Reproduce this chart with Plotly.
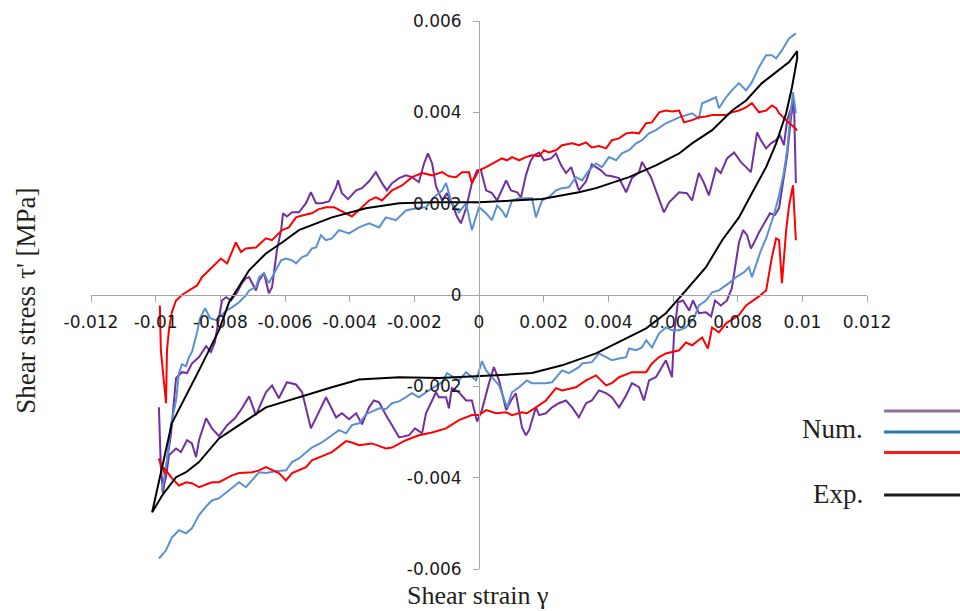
import plotly.graph_objects as go

# ---- Experimental loop (shear strain, shear stress in MPa) ----
exp_strain = [-0.01011, -0.00950, -0.00866, -0.00804, -0.00773, -0.00711, -0.00659, -0.00609, -0.00557, -0.00455,
              -0.00350, -0.00247, -0.00145, 0.0, 0.00195, 0.00309, 0.00362, 0.00464, 0.00547, 0.00619,
              0.00659, 0.00721, 0.00783, 0.00826, 0.00875, 0.00928, 0.00959, 0.00984,
              0.00984, 0.00968, 0.00950, 0.00919, 0.00888, 0.00844, 0.00804, 0.00752, 0.00702, 0.00640,
              0.00578, 0.00517, 0.00442, 0.00362, 0.00257, 0.00164, 0.00053, 0.0, -0.00124, -0.00247,
              -0.00371, -0.00455, -0.00557, -0.00659, -0.00742, -0.00804, -0.00866, -0.00906, -0.00937, -0.00980,
              -0.01011]
exp_stress = [-0.00476, -0.00281, -0.00165, -0.00077, -0.00016, 0.00054, 0.00091, 0.00115, 0.00142, 0.00170,
              0.00190, 0.00201, 0.00203, 0.00203, 0.00210, 0.00225, 0.00234, 0.00258, 0.00284, 0.00310,
              0.00332, 0.00361, 0.00404, 0.00426, 0.00464, 0.00492, 0.00510, 0.00534,
              0.00518, 0.00455, 0.00398, 0.00332, 0.00280, 0.00223, 0.00170, 0.00120, 0.00061, 0.00010,
              -0.00040, -0.00073, -0.00099, -0.00128, -0.00154, -0.00171, -0.00176, -0.00178, -0.00182, -0.00180,
              -0.00185, -0.00202, -0.00224, -0.00246, -0.00285, -0.00314, -0.00366, -0.00388, -0.00399, -0.00439,
              -0.00476]

# ---- Numerical run 1 (purple) ----
purple_up_strain = [-0.00990, -0.00984, -0.00977, -0.00965, -0.00953, -0.00937, -0.00919, -0.00903, -0.00888, -0.00866,
                    -0.00844, -0.00829, -0.00817, -0.00804, -0.00795, -0.00782, -0.00767, -0.00748, -0.00733, -0.00721,
                    -0.00711, -0.00690, -0.00680, -0.00665, -0.00650, -0.00640, -0.00625, -0.00612, -0.00606, -0.00594,
                    -0.00578, -0.00557, -0.00535, -0.00520, -0.00504, -0.00486, -0.00464, -0.00442, -0.00436, -0.00424,
                    -0.00405, -0.00380, -0.00362, -0.00340, -0.00319, -0.00300, -0.00285, -0.00269, -0.00247, -0.00226,
                    -0.00207, -0.00186, -0.00170, -0.00158, -0.00145, -0.00133, -0.00114, -0.00099, -0.00084, -0.00068,
                    -0.00056, -0.00040, -0.00022, -0.00006, 0.00006, 0.00022, 0.00040, 0.00056, 0.00084, 0.00099,
                    0.00118, 0.00130, 0.00145, 0.00158, 0.00170, 0.00186, 0.00201, 0.00223, 0.00238, 0.00254,
                    0.00269, 0.00285, 0.00300, 0.00309, 0.00331, 0.00349, 0.00377, 0.00393, 0.00411, 0.00433,
                    0.00455, 0.00473, 0.00495, 0.00504, 0.00532, 0.00557, 0.00572, 0.00588, 0.00619, 0.00643,
                    0.00659, 0.00680, 0.00696, 0.00711, 0.00733, 0.00748, 0.00767, 0.00789, 0.00810, 0.00826,
                    0.00841, 0.00860, 0.00872, 0.00888, 0.00903, 0.00919, 0.00931, 0.00943, 0.00953, 0.00965,
                    0.00974, 0.00980]
purple_up_stress = [-0.00246, -0.00377, -0.00434, -0.00362, -0.00307, -0.00182, -0.00169, -0.00171, -0.00150, -0.00136,
                    -0.00112, -0.00125, -0.00104, -0.00051, -0.00012, -0.00005, -0.00012, 0.00006, 0.00026, 0.00037,
                    0.00039, 0.00010, 0.00032, 0.00048, 0.00004, 0.00017, 0.00098, 0.00142, 0.00179, 0.00172,
                    0.00181, 0.00181, 0.00201, 0.00225, 0.00201, 0.00201, 0.00205, 0.00236, 0.00251, 0.00223,
                    0.00210, 0.00229, 0.00234, 0.00249, 0.00269, 0.00245, 0.00229, 0.00245, 0.00256, 0.00262,
                    0.00258, 0.00247, 0.00288, 0.00310, 0.00288, 0.00238, 0.00207, 0.00223, 0.00201, 0.00172,
                    0.00157, 0.00190, 0.00245, 0.00273, 0.00273, 0.00229, 0.00223, 0.00207, 0.00251, 0.00229,
                    0.00225, 0.00214, 0.00262, 0.00291, 0.00306, 0.00312, 0.00295, 0.00299, 0.00310, 0.00284,
                    0.00267, 0.00280, 0.00247, 0.00229, 0.00249, 0.00286, 0.00273, 0.00262, 0.00260, 0.00256,
                    0.00225, 0.00256, 0.00269, 0.00291, 0.00258, 0.00207, 0.00181, 0.00203, 0.00225, 0.00223,
                    0.00207, 0.00267, 0.00245, 0.00218, 0.00277, 0.00267, 0.00299, 0.00312, 0.00291, 0.00280,
                    0.00269, 0.00356, 0.00339, 0.00321, 0.00332, 0.00339, 0.00350, 0.00328, 0.00383, 0.00409,
                    0.00426, 0.00245]
purple_down_strain = [0.00974, 0.00965, 0.00953, 0.00940, 0.00928, 0.00915, 0.00900, 0.00888, 0.00875, 0.00866,
                      0.00851, 0.00841, 0.00829, 0.00817, 0.00804, 0.00795, 0.00782, 0.00767, 0.00748, 0.00730,
                      0.00718, 0.00702, 0.00680, 0.00662, 0.00650, 0.00631, 0.00615, 0.00603, 0.00597, 0.00578,
                      0.00547, 0.00526, 0.00510, 0.00495, 0.00473, 0.00455, 0.00433, 0.00411, 0.00393, 0.00371,
                      0.00349, 0.00331, 0.00309, 0.00288, 0.00269, 0.00247, 0.00226, 0.00207, 0.00186, 0.00176,
                      0.00155, 0.00145, 0.00133, 0.00114, 0.00099, 0.00084, 0.00062, 0.00046, 0.00031, 0.00009,
                      -0.00006, -0.00022, -0.00040, -0.00062, -0.00084, -0.00093, -0.00102, -0.00124, -0.00133, -0.00145,
                      -0.00164, -0.00176, -0.00198, -0.00216, -0.00247, -0.00269, -0.00288, -0.00309, -0.00325, -0.00340,
                      -0.00362, -0.00380, -0.00402, -0.00424, -0.00442, -0.00473, -0.00504, -0.00520, -0.00547, -0.00566,
                      -0.00594, -0.00619, -0.00640, -0.00659, -0.00690, -0.00711, -0.00733, -0.00755, -0.00779, -0.00804,
                      -0.00826, -0.00844, -0.00866, -0.00875, -0.00888, -0.00903, -0.00922, -0.00937, -0.00959, -0.00968,
                      -0.00980]
purple_down_stress = [0.00426, 0.00389, 0.00306, 0.00240, 0.00190, 0.00175, 0.00179, 0.00164, 0.00148, 0.00137,
                      0.00115, 0.00102, 0.00131, 0.00142, 0.00115, 0.00076, 0.00015, -0.00012, -0.00023, -0.00012,
                      -0.00047, -0.00038, -0.00040, -0.00012, -0.00034, -0.00012, -0.00016, -0.00088, -0.00180, -0.00143,
                      -0.00180, -0.00187, -0.00231, -0.00202, -0.00193, -0.00220, -0.00246, -0.00224, -0.00215, -0.00209,
                      -0.00231, -0.00237, -0.00268, -0.00246, -0.00231, -0.00237, -0.00246, -0.00259, -0.00263, -0.00246,
                      -0.00296, -0.00307, -0.00290, -0.00215, -0.00231, -0.00252, -0.00187, -0.00158, -0.00193, -0.00252,
                      -0.00277, -0.00231, -0.00231, -0.00213, -0.00204, -0.00248, -0.00224, -0.00224, -0.00213, -0.00231,
                      -0.00259, -0.00303, -0.00292, -0.00307, -0.00312, -0.00285, -0.00263, -0.00235, -0.00231, -0.00246,
                      -0.00283, -0.00259, -0.00272, -0.00259, -0.00268, -0.00224, -0.00270, -0.00292, -0.00213, -0.00196,
                      -0.00191, -0.00226, -0.00198, -0.00213, -0.00263, -0.00222, -0.00248, -0.00270, -0.00285, -0.00309,
                      -0.00292, -0.00270, -0.00318, -0.00355, -0.00325, -0.00318, -0.00344, -0.00336, -0.00351, -0.00399,
                      -0.00428]

# ---- Numerical run 2 (blue) ----
blue_up_strain = [-0.00980, -0.00965, -0.00953, -0.00937, -0.00928, -0.00919, -0.00906, -0.00897, -0.00888, -0.00872,
                  -0.00863, -0.00847, -0.00832, -0.00813, -0.00782, -0.00764, -0.00742, -0.00721, -0.00711, -0.00690,
                  -0.00680, -0.00665, -0.00650, -0.00628, -0.00612, -0.00597, -0.00578, -0.00566, -0.00547, -0.00532,
                  -0.00517, -0.00504, -0.00489, -0.00473, -0.00455, -0.00433, -0.00402, -0.00371, -0.00340, -0.00309,
                  -0.00288, -0.00257, -0.00226, -0.00195, -0.00164, -0.00139, -0.00114, -0.00102, -0.00084, -0.00062,
                  -0.00040, -0.00022, -0.00009, 0.0, 0.00022, 0.00040, 0.00056, 0.00071, 0.00084, 0.00102,
                  0.00124, 0.00164, 0.00176, 0.00195, 0.00216, 0.00238, 0.00257, 0.00278, 0.00300, 0.00319,
                  0.00340, 0.00362, 0.00380, 0.00402, 0.00424, 0.00442, 0.00464, 0.00486, 0.00504, 0.00526,
                  0.00547, 0.00578, 0.00619, 0.00640, 0.00659, 0.00680, 0.00690, 0.00711, 0.00733, 0.00742,
                  0.00764, 0.00782, 0.00804, 0.00826, 0.00844, 0.00866, 0.00888, 0.00906, 0.00919, 0.00937,
                  0.00959, 0.00980]
blue_up_stress = [-0.00428, -0.00362, -0.00285, -0.00231, -0.00171, -0.00152, -0.00156, -0.00136, -0.00125, -0.00082,
                  -0.00051, -0.00029, -0.00051, -0.00055, -0.00034, -0.00027, -0.00016, -0.00001, 0.00010, 0.00017,
                  0.00039, 0.00048, 0.00026, 0.00054, 0.00076, 0.00080, 0.00076, 0.00069, 0.00083, 0.00087,
                  0.00102, 0.00104, 0.00131, 0.00120, 0.00124, 0.00142, 0.00135, 0.00148, 0.00157, 0.00148,
                  0.00170, 0.00164, 0.00185, 0.00190, 0.00192, 0.00214, 0.00229, 0.00245, 0.00201, 0.00181,
                  0.00201, 0.00142, 0.00170, 0.00192, 0.00179, 0.00164, 0.00196, 0.00185, 0.00170, 0.00207,
                  0.00212, 0.00212, 0.00170, 0.00207, 0.00214, 0.00229, 0.00234, 0.00236, 0.00258, 0.00251,
                  0.00273, 0.00288, 0.00280, 0.00302, 0.00295, 0.00310, 0.00317, 0.00332, 0.00339, 0.00354,
                  0.00361, 0.00376, 0.00389, 0.00394, 0.00398, 0.00387, 0.00420, 0.00426, 0.00433, 0.00409,
                  0.00433, 0.00448, 0.00464, 0.00448, 0.00466, 0.00499, 0.00525, 0.00525, 0.00518, 0.00536,
                  0.00562, 0.00573]
blue_down_strain = [0.00980, 0.00971, 0.00962, 0.00953, 0.00943, 0.00928, 0.00912, 0.00897, 0.00888, 0.00872,
                    0.00860, 0.00844, 0.00835, 0.00820, 0.00795, 0.00773, 0.00742, 0.00721, 0.00702, 0.00680,
                    0.00665, 0.00640, 0.00619, 0.00597, 0.00578, 0.00557, 0.00535, 0.00517, 0.00504, 0.00486,
                    0.00464, 0.00455, 0.00433, 0.00411, 0.00393, 0.00371, 0.00349, 0.00319, 0.00309, 0.00278,
                    0.00257, 0.00226, 0.00207, 0.00164, 0.00148, 0.00124, 0.00102, 0.00087, 0.00062, 0.00040,
                    0.00022, 0.00009, -0.00009, -0.00040, -0.00062, -0.00099, -0.00114, -0.00155, -0.00186, -0.00207,
                    -0.00226, -0.00247, -0.00269, -0.00288, -0.00309, -0.00331, -0.00349, -0.00371, -0.00393, -0.00411,
                    -0.00433, -0.00455, -0.00486, -0.00517, -0.00535, -0.00557, -0.00578, -0.00597, -0.00628, -0.00659,
                    -0.00680, -0.00702, -0.00721, -0.00742, -0.00764, -0.00782, -0.00804, -0.00826, -0.00844, -0.00866,
                    -0.00888, -0.00906, -0.00928, -0.00950, -0.00968, -0.00990]
blue_down_stress = [0.00398, 0.00444, 0.00387, 0.00317, 0.00269, 0.00218, 0.00175, 0.00146, 0.00124, 0.00098,
                    0.00072, 0.00039, 0.00061, 0.00050, 0.00039, 0.00026, 0.00010, 0.00006, -0.00012, -0.00023,
                    -0.00051, -0.00071, -0.00077, -0.00077, -0.00071, -0.00084, -0.00115, -0.00099, -0.00115, -0.00121,
                    -0.00117, -0.00136, -0.00139, -0.00143, -0.00136, -0.00128, -0.00147, -0.00150, -0.00158, -0.00171,
                    -0.00165, -0.00191, -0.00193, -0.00193, -0.00187, -0.00202, -0.00213, -0.00246, -0.00198, -0.00180,
                    -0.00165, -0.00145, -0.00187, -0.00169, -0.00187, -0.00171, -0.00191, -0.00209, -0.00224, -0.00215,
                    -0.00224, -0.00233, -0.00237, -0.00250, -0.00248, -0.00255, -0.00261, -0.00281, -0.00285, -0.00303,
                    -0.00296, -0.00307, -0.00323, -0.00334, -0.00344, -0.00358, -0.00366, -0.00384, -0.00386, -0.00390,
                    -0.00388, -0.00406, -0.00421, -0.00410, -0.00423, -0.00432, -0.00445, -0.00450, -0.00463, -0.00482,
                    -0.00511, -0.00522, -0.00515, -0.00531, -0.00559, -0.00577]

# ---- Numerical run 3 (red) ----
red_up_strain = [-0.00987, -0.00984, -0.00968, -0.00965, -0.00959, -0.00950, -0.00937, -0.00919, -0.00906, -0.00888,
                 -0.00872, -0.00857, -0.00835, -0.00813, -0.00798, -0.00779, -0.00752, -0.00736, -0.00721, -0.00690,
                 -0.00659, -0.00640, -0.00609, -0.00588, -0.00566, -0.00541, -0.00517, -0.00495, -0.00473, -0.00448,
                 -0.00411, -0.00393, -0.00362, -0.00340, -0.00319, -0.00300, -0.00269, -0.00238, -0.00207, -0.00176,
                 -0.00145, -0.00114, -0.00093, -0.00071, -0.00053, -0.00031, -0.00022, 0.0, 0.00022, 0.00053,
                 0.00071, 0.00087, 0.00102, 0.00124, 0.00145, 0.00164, 0.00186, 0.00201, 0.00216, 0.00238,
                 0.00257, 0.00288, 0.00309, 0.00331, 0.00349, 0.00371, 0.00393, 0.00411, 0.00433, 0.00455,
                 0.00473, 0.00495, 0.00517, 0.00535, 0.00557, 0.00578, 0.00597, 0.00619, 0.00634, 0.00659,
                 0.00680, 0.00702, 0.00721, 0.00764, 0.00782, 0.00804, 0.00826, 0.00844, 0.00866, 0.00888,
                 0.00906, 0.00919, 0.00928, 0.00950, 0.00968, 0.00984]
red_up_stress = [-0.00023, -0.00121, -0.00237, -0.00121, -0.00077, -0.00038, -0.00012, 0.0, 0.00006, 0.00015,
                 0.00021, 0.00039, 0.00054, 0.00069, 0.00080, 0.00069, 0.00115, 0.00094, 0.00102, 0.00104,
                 0.00124, 0.00120, 0.00142, 0.00148, 0.00170, 0.00175, 0.00179, 0.00188, 0.00192, 0.00192,
                 0.00179, 0.00172, 0.00192, 0.00207, 0.00214, 0.00207, 0.00229, 0.00240, 0.00258, 0.00267,
                 0.00262, 0.00269, 0.00260, 0.00258, 0.00269, 0.00269, 0.00245, 0.00273, 0.00280, 0.00291,
                 0.00299, 0.00295, 0.00302, 0.00295, 0.00302, 0.00306, 0.00304, 0.00317, 0.00312, 0.00317,
                 0.00328, 0.00332, 0.00328, 0.00334, 0.00323, 0.00326, 0.00321, 0.00339, 0.00343, 0.00354,
                 0.00356, 0.00354, 0.00376, 0.00378, 0.00400, 0.00404, 0.00402, 0.00404, 0.00378, 0.00383,
                 0.00389, 0.00391, 0.00394, 0.00394, 0.00400, 0.00404, 0.00411, 0.00420, 0.00400, 0.00404,
                 0.00415, 0.00409, 0.00398, 0.00383, 0.00372, 0.00361]
red_down_strain = [0.00980, 0.00971, 0.00959, 0.00950, 0.00937, 0.00928, 0.00919, 0.00906, 0.00888, 0.00866,
                   0.00826, 0.00804, 0.00764, 0.00742, 0.00721, 0.00708, 0.00690, 0.00659, 0.00640, 0.00619,
                   0.00578, 0.00557, 0.00535, 0.00517, 0.00473, 0.00433, 0.00411, 0.00393, 0.00362, 0.00331,
                   0.00300, 0.00257, 0.00238, 0.00207, 0.00176, 0.00148, 0.00133, 0.00102, 0.00084, 0.00053,
                   0.00022, 0.0, -0.00022, -0.00062, -0.00102, -0.00145, -0.00186, -0.00226, -0.00269, -0.00288,
                   -0.00331, -0.00371, -0.00393, -0.00411, -0.00455, -0.00495, -0.00517, -0.00535, -0.00578, -0.00597,
                   -0.00619, -0.00659, -0.00680, -0.00702, -0.00742, -0.00764, -0.00804, -0.00826, -0.00866, -0.00888,
                   -0.00906, -0.00928, -0.00950, -0.00968, -0.00984, -0.00990, -0.00971]
red_down_stress = [0.00120, 0.00240, 0.00196, 0.00142, 0.00026, 0.00120, 0.00124, 0.00083, 0.00010, -0.00003,
                   -0.00023, -0.00044, -0.00062, -0.00082, -0.00071, -0.00117, -0.00093, -0.00110, -0.00104, -0.00121,
                   -0.00128, -0.00136, -0.00150, -0.00169, -0.00169, -0.00180, -0.00193, -0.00198, -0.00176, -0.00187,
                   -0.00202, -0.00209, -0.00204, -0.00231, -0.00246, -0.00259, -0.00257, -0.00263, -0.00257, -0.00259,
                   -0.00252, -0.00263, -0.00263, -0.00274, -0.00292, -0.00301, -0.00307, -0.00318, -0.00334, -0.00336,
                   -0.00325, -0.00329, -0.00323, -0.00320, -0.00344, -0.00355, -0.00362, -0.00377, -0.00390, -0.00406,
                   -0.00390, -0.00377, -0.00384, -0.00388, -0.00390, -0.00395, -0.00410, -0.00410, -0.00421, -0.00412,
                   -0.00410, -0.00417, -0.00401, -0.00384, -0.00373, -0.00358, -0.00393]

# ---- Axis ticks ----
x_tick_values = [-0.012, -0.010, -0.008, -0.006, -0.004, -0.002, 0.0, 0.002, 0.004, 0.006, 0.008, 0.010, 0.012]
x_tick_labels = ["-0.012", "-0.01", "-0.008", "-0.006", "-0.004", "-0.002", "0",
                 "0.002", "0.004", "0.006", "0.008", "0.01", "0.012"]
y_tick_values = [-0.006, -0.004, -0.002, 0.0, 0.002, 0.004, 0.006]
y_tick_labels = ["-0.006", "-0.004", "-0.002", "0", "0.002", "0.004", "0.006"]

PURPLE = "#7030a0"
BLUE = "#5b8fd3"
RED = "#ff0000"
BLACK = "#000000"


def join_branches(a, b):
    """Two branches of one loop, drawn as one trace with a break between them."""
    return list(a) + [None] + list(b)


fig = go.Figure()
fig.add_trace(go.Scatter(x=join_branches(purple_up_strain, purple_down_strain),
                         y=join_branches(purple_up_stress, purple_down_stress),
                         mode="lines", line=dict(color=PURPLE, width=2), connectgaps=False))
fig.add_trace(go.Scatter(x=join_branches(blue_up_strain, blue_down_strain),
                         y=join_branches(blue_up_stress, blue_down_stress),
                         mode="lines", line=dict(color=BLUE, width=2), connectgaps=False))
fig.add_trace(go.Scatter(x=join_branches(red_up_strain, red_down_strain),
                         y=join_branches(red_up_stress, red_down_stress),
                         mode="lines", line=dict(color=RED, width=2), connectgaps=False))
fig.add_trace(go.Scatter(x=exp_strain, y=exp_stress,
                         mode="lines", line=dict(color=BLACK, width=2)))

tick_font = dict(family="DejaVu Sans", size=17, color="#1a1a1a")
serif = "Liberation Serif, Times New Roman, serif"
axis_grey = "#a6a6a6"

fig.update_layout(
    width=960, height=611,
    margin=dict(l=91, r=93, t=21, b=42),
    paper_bgcolor="white", plot_bgcolor="white",
    showlegend=False, hovermode=False,
    xaxis=dict(range=[-0.012, 0.012], tickvals=x_tick_values, ticktext=x_tick_labels,
               anchor="free", position=0.5, showline=True, linecolor=axis_grey, linewidth=1,
               ticks="outside", ticklen=6, tickcolor=axis_grey, tickwidth=1,
               showgrid=False, zeroline=False, tickfont=tick_font, ticklabelstandoff=6),
    yaxis=dict(range=[-0.006, 0.006], tickvals=y_tick_values, ticktext=y_tick_labels,
               anchor="free", position=0.5, showline=True, linecolor=axis_grey, linewidth=1,
               ticks="outside", ticklen=6, tickcolor=axis_grey, tickwidth=1,
               showgrid=False, zeroline=False, tickfont=tick_font, ticklabelstandoff=8),
)

# Axis titles
fig.add_annotation(text="Shear strain \u03b3", xref="paper", yref="paper",
                   x=0.4987, y=-0.048, xanchor="center", yanchor="middle", showarrow=False,
                   font=dict(family=serif, size=26, color="#231f20"))
fig.add_annotation(text="Shear stress \u03c4' [MPa]", xref="paper", yref="paper",
                   x=-0.084, y=0.489, xanchor="center", yanchor="middle", textangle=-90,
                   showarrow=False, font=dict(family=serif, size=27, color="#231f20"))

# Legend: one label for the three numerical runs, one for the experiment
legend_x0, legend_x1 = 1.022, 1.12
for color, yy in [("#8c7099", 0.2883), ("#2e75b6", 0.2500), ("#ff1a1a", 0.2126), ("#1a1a1a", 0.1350)]:
    fig.add_shape(type="line", xref="paper", yref="paper",
                  x0=legend_x0, x1=legend_x1, y0=yy, y1=yy,
                  line=dict(color=color, width=3))
fig.add_annotation(text="Num.", xref="paper", yref="paper", x=0.9974, y=0.2555,
                   xanchor="right", yanchor="middle", showarrow=False,
                   font=dict(family=serif, size=27, color="#231f20"))
fig.add_annotation(text="Exp.", xref="paper", yref="paper", x=0.9974, y=0.1369,
                   xanchor="right", yanchor="middle", showarrow=False,
                   font=dict(family=serif, size=27, color="#231f20"))

fig.write_html("out.html")
